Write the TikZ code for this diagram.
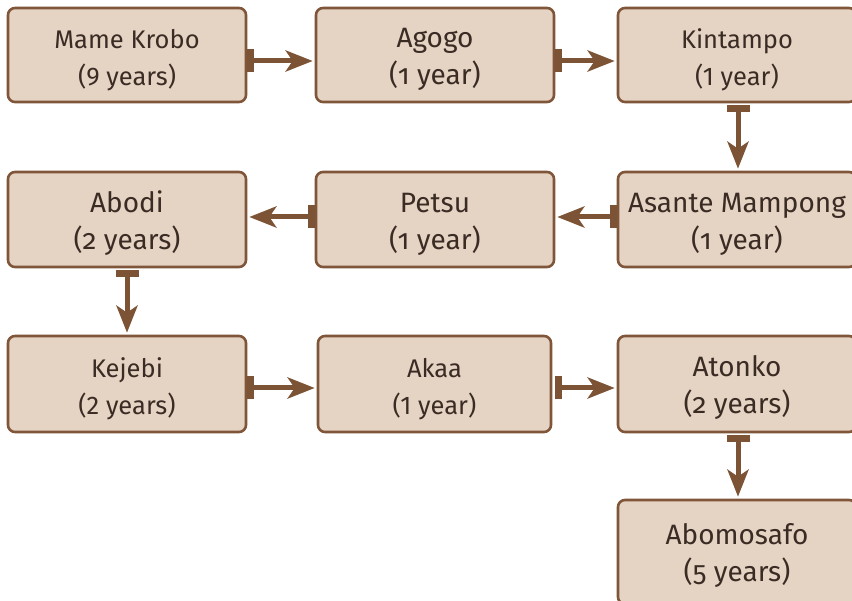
\documentclass[tikz,border=0pt]{standalone}
\usepackage{fontspec}
\setmainfont{Fira Sans}
\usetikzlibrary{arrows.meta}
\definecolor{boxfill}{HTML}{E5D4C4}
\definecolor{boxline}{HTML}{80563A}
\definecolor{linkcol}{HTML}{7C5334}
\definecolor{txt}{HTML}{3A2C24}
% a tall strut on the first line moves the two lines a little lower in their box
\newcommand\firstline{\rule{0pt}{28.5pt}}
\tikzset{
  stage/.style={draw=boxline, line width=2.6pt, fill=boxfill, rounded corners=7pt,
    minimum width=238pt, minimum height=95pt, inner sep=0pt, text=txt,
    align=center, font=\fontsize{28}{37}\selectfont\addfontfeature{Numbers=OldStyle}},
  stagesmall/.style={stage, font=\fontsize{25.5}{37}\selectfont\addfontfeature{Numbers=Lining}},
  link/.style={draw=linkcol, line width=5pt,
    {Bar[width=23pt,line width=6.5pt]}-{Stealth[length=27pt,width=21pt,inset=7pt]},
    shorten >=2pt}
}
\begin{document}
\begin{tikzpicture}[x=1pt,y=-1pt]
\useasboundingbox (0,0) rectangle (852,601);
% first row
\node[stagesmall, minimum height=94pt] (mame) at (127,55) {\firstline Mame Krobo\\(9 years)};
\node[stage, minimum height=94pt] (agogo) at (435,55) {\firstline Agogo\\(1 year)};
\node[stagesmall, minimum height=94pt] (kint) at (737,55) {\firstline Kintampo\\(1 year)};
% second row
\node[stage] (abodi) at (127,219.5) {\firstline Abodi\\(2 years)};
\node[stage] (petsu) at (435,219.5) {\firstline Petsu\\(1 year)};
\node[stage] (asante) at (737,219.5) {\firstline Asante Mampong\\(1 year)};
% third row
\node[stagesmall, minimum height=96pt] (kejebi) at (127,384) {\firstline Kejebi\\(2 years)};
\node[stagesmall, minimum height=96pt, minimum width=233pt] (akaa) at (434.5,384) {\firstline Akaa\\(1 year)};
\node[stage, minimum height=96pt] (atonko) at (737,384) {\firstline Atonko\\(2 years)};
% last stage
\node[stage, minimum height=104pt] (abomo) at (737,552) {\firstline Abomosafo\\(5 years)};
% links
\draw[link] ([yshift=-6pt]mame.east) -- ([yshift=-6pt]agogo.west);
\draw[link] ([yshift=-6pt]agogo.east) -- ([yshift=-6pt]kint.west);
\draw[link] ([xshift=1pt,yshift=-2pt]kint.south) -- ([xshift=1pt]asante.north);
\draw[link] ([yshift=2.5pt]asante.west) -- ([yshift=2.5pt]petsu.east);
\draw[link] ([yshift=2.5pt]petsu.west) -- ([yshift=2.5pt]abodi.east);
\draw[link] ([yshift=-2pt]abodi.south) -- (kejebi.north);
\draw[link] ([yshift=-4pt]kejebi.east) -- ([yshift=-4pt]akaa.west);
\draw[link] ([xshift=3pt,yshift=-4pt]akaa.east) -- ([yshift=-4pt]atonko.west);
\draw[link] ([xshift=1pt,yshift=-2pt]atonko.south) -- ([xshift=1pt]abomo.north);
\end{tikzpicture}
\end{document}
